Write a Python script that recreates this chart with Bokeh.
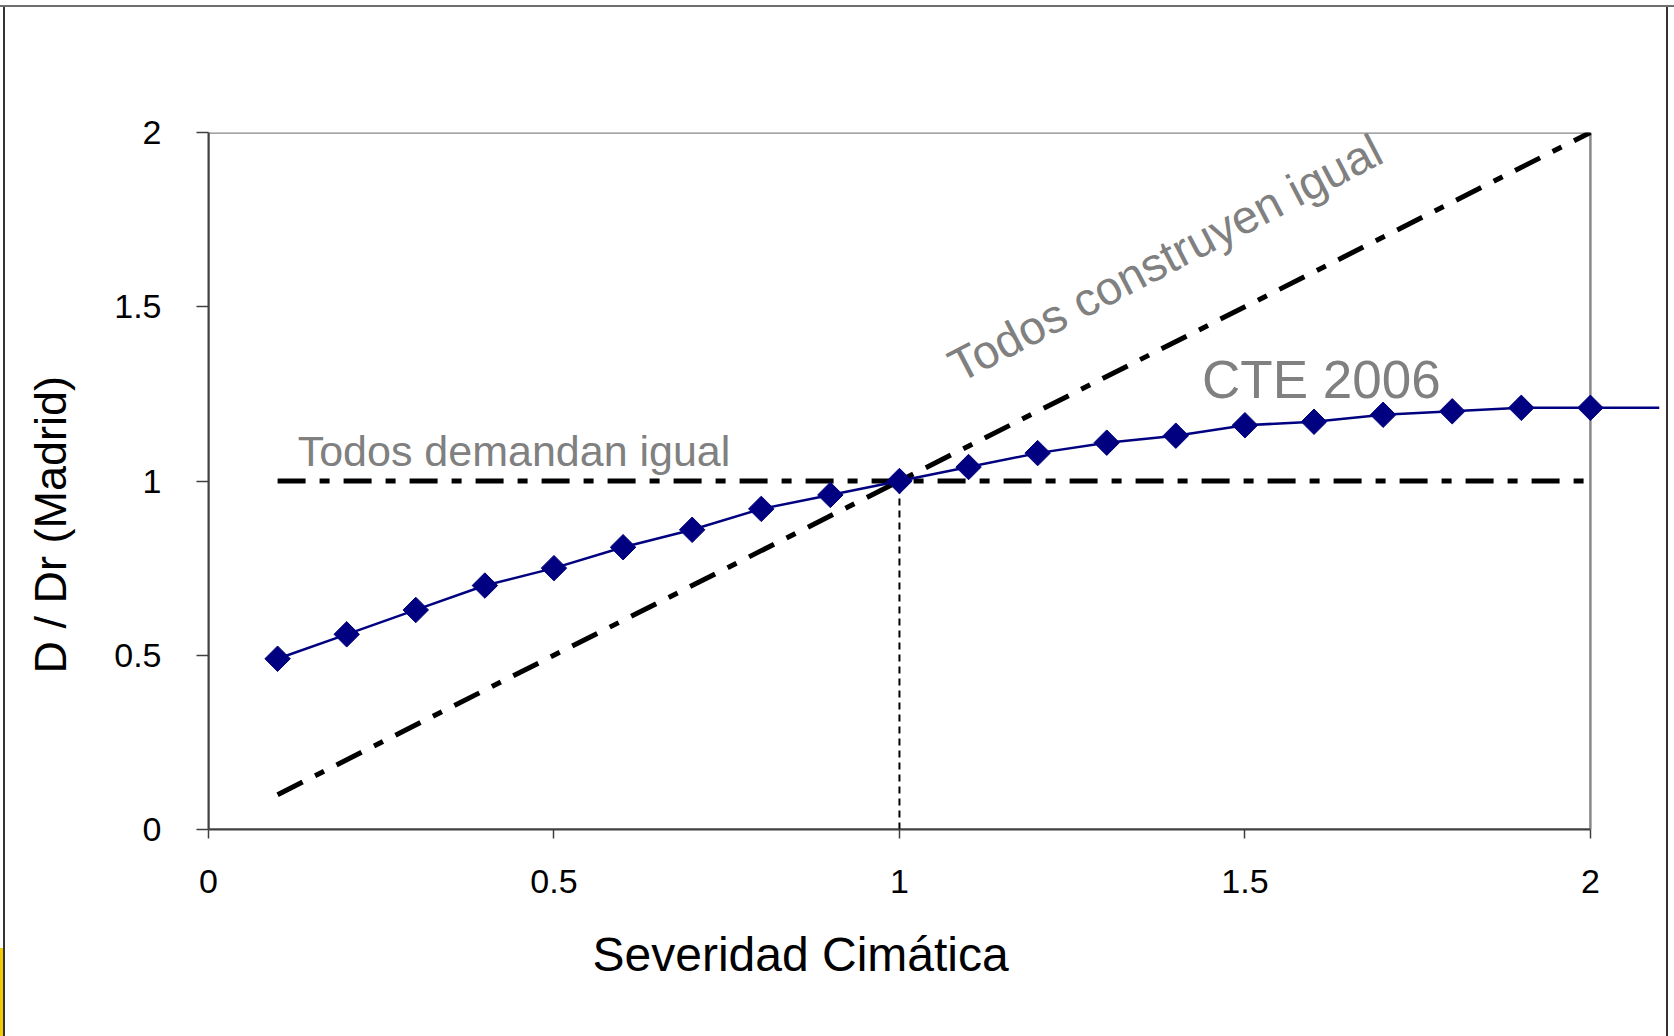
from bokeh.plotting import figure
from bokeh.models import Range1d, FixedTicker, CustomJSTickFormatter, BoxAnnotation, Label
from bokeh.embed import file_html
from bokeh.resources import INLINE
import math

# ---- data ----
sev = [0.1, 0.2, 0.3, 0.4, 0.5, 0.6, 0.7, 0.8, 0.9, 1.0,
       1.1, 1.2, 1.3, 1.4, 1.5, 1.6, 1.7, 1.8, 1.9, 2.0]
cte2006 = [0.49, 0.56, 0.63, 0.70, 0.75, 0.81, 0.86, 0.92, 0.96, 1.00,
           1.04, 1.08, 1.11, 1.13, 1.16, 1.17, 1.19, 1.20, 1.21, 1.21]
# line continues past the last marker (beyond the plot area)
cte_line_x = sev + [2.1]
cte_line_y = cte2006 + [1.21]

construyen_x = [0.1, 2.0]
construyen_y = [0.1, 2.0]
demandan_x = [0.1, 2.0]
demandan_y = [1.0, 1.0]
ref_x = [1.0, 1.0]
ref_y = [0.0, 1.0]

ticks = [0, 0.5, 1, 1.5, 2]
x_min, x_max, x_line_end = 0, 2, 2.1
y_min, y_max = 0, 2

x_title = "Severidad Cimática"
y_title = "D / Dr (Madrid)"

FONT = "Liberation Sans"
NB = "\u00a0"

p = figure(width=1674, height=1036, output_backend="svg", toolbar_location=None,
           x_range=Range1d(x_min, x_line_end), y_range=Range1d(y_min, y_max),
           min_border_left=208, min_border_right=15, min_border_top=132,
           min_border_bottom=207)
p.grid.visible = False
p.outline_line_color = None
p.background_fill_color = "white"
p.border_fill_color = "white"
p.border_fill_alpha = 0
# thin frame of the original slide around the chart
p.styles = {
    "background-color": "white",
    "background-image": ("linear-gradient(#6f6f6f,#6f6f6f), linear-gradient(#333333,#333333), "
                         "linear-gradient(#333333,#333333), linear-gradient(#f2cc00,#f2cc00)"),
    "background-position": "0px 5px, 3px 5px, 1666px 5px, 0px 948px",
    "background-size": "100% 2px, 2px 100%, 2px 100%, 3px 88px",
    "background-repeat": "no-repeat",
}

for ax in (p.xaxis[0], p.yaxis[0]):
    ax.ticker = FixedTicker(ticks=ticks)
    ax.formatter = CustomJSTickFormatter(code="return tick.toString()")
    ax.minor_tick_line_color = None
    ax.axis_line_color = "#404040"
    ax.axis_line_width = 2
    ax.major_tick_line_color = "#404040"
    ax.major_tick_line_width = 1.5
    ax.major_tick_in = 0
    ax.major_label_text_font = FONT
    ax.major_label_text_font_size = "34px"
    ax.major_label_text_color = "black"
    ax.axis_label_text_font = FONT
    ax.axis_label_text_font_style = "normal"
    ax.axis_label_text_color = "black"

p.xaxis.bounds = (x_min, x_max)
p.xaxis.major_tick_out = 9
p.xaxis.major_label_standoff = 31
# trailing no-break spaces shift the (centred) title to the left, as in the original
p.xaxis.axis_label = x_title + NB * 20
p.xaxis.axis_label_text_font_size = "48px"
p.xaxis.axis_label_standoff = 32

p.yaxis.major_tick_out = 12
p.yaxis.major_label_standoff = 35
p.yaxis.axis_label = y_title + NB * 7
p.yaxis.axis_label_text_font_size = "45px"
p.yaxis.axis_label_standoff = 35

# plot-area border (top / right) in gray
p.add_layout(BoxAnnotation(left=x_min, right=x_max, bottom=y_min, top=y_max,
                           fill_color=None, fill_alpha=0,
                           line_color="#888888", line_alpha=1.0, line_width=2.5,
                           level="underlay"))

# reference lines
p.line(construyen_x, construyen_y, line_color="black", line_width=5,
       line_dash="28 14 10 14")
p.line(demandan_x, demandan_y, line_color="black", line_width=5,
       line_dash="28 14 10 14")
p.line(ref_x, ref_y, line_color="black", line_width=2, line_dash="7 5")

# CTE 2006 series
p.line(cte_line_x, cte_line_y, line_color="#000080", line_width=2.5)
p.scatter(sev, cte2006, marker="square", angle=math.pi / 4, size=18,
          fill_color="#000080", line_color="#000080")

# annotations
p.add_layout(Label(x=0.129, y=1.085, text="Todos demandan igual",
                   text_font=FONT, text_font_size="43px", text_color="#808080",
                   text_align="left", text_baseline="alphabetic"))
p.add_layout(Label(x=1.438, y=1.291, text="CTE 2006",
                   text_font=FONT, text_font_size="53px", text_color="#808080",
                   text_align="left", text_baseline="alphabetic"))
p.add_layout(Label(x=1.076, y=1.322, text="Todos construyen igual",
                   angle=math.radians(27.5),
                   text_font=FONT, text_font_size="47px", text_color="#808080",
                   text_align="left", text_baseline="alphabetic"))

open("out.html", "w").write(file_html(p, INLINE))
